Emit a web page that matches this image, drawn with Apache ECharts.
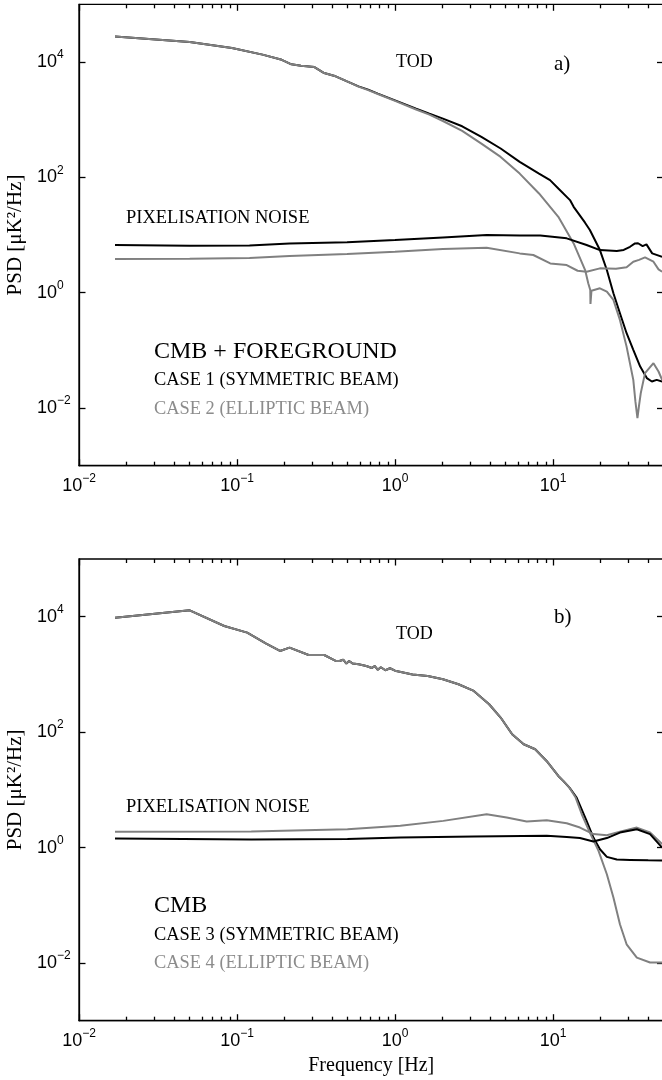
<!DOCTYPE html>
<html>
<head>
<meta charset="utf-8">
<script src="https://cdn.jsdelivr.net/npm/echarts@6/dist/echarts.min.js"></script>
<style>
  html, body { margin: 0; padding: 0; background: #fff; }
  #chart { width: 662px; height: 1080px; }
</style>
</head>
<body>
<div id="chart"></div>
<script>
// Axis ranges shared by both panels
const F_MIN = 0.01, F_MAX = 50;
const P_MIN = 1e-3, P_MAX = 1e5;

// Tick positions
const xMajorTicks = [0.01, 0.1, 1, 10];
const xMinorTicks = [0.02, 0.03, 0.04, 0.05, 0.06, 0.07, 0.08, 0.09,
                     0.2, 0.3, 0.4, 0.5, 0.6, 0.7, 0.8, 0.9,
                     2, 3, 4, 5, 6, 7, 8, 9, 20, 30, 40];
const yMajorTicks = [0.01, 1, 100, 10000];

// Panel a) CMB + foreground: [frequency Hz, PSD uK^2/Hz]
const todCase1 = [
  [0.0169, 27700], [0.0502, 22100], [0.0929, 17400], [0.145, 13400], [0.192, 10900],
  [0.221, 9090], [0.254, 8610], [0.309, 8170], [0.356, 6430], [0.421, 5640],
  [0.497, 4600], [0.587, 3780], [0.676, 3310], [0.778, 2820], [1.0, 2160],
  [1.36, 1550], [1.65, 1270], [2.01, 1040], [2.66, 767], [3.52, 501],
  [4.66, 316], [6.15, 185], [8.15, 116], [9.57, 89.3], [10.8, 64.0],
  [12.8, 40.3], [13.5, 30.8], [15.9, 16.5], [17.1, 12.2], [19.8, 5.48],
  [21.9, 2.47], [24.1, 0.975], [26.5, 0.440], [29.2, 0.198], [32.2, 0.102],
  [35.6, 0.0524], [39.2, 0.0330], [42.2, 0.0288], [45.3, 0.0308], [49.0, 0.0288]
];
const todCase2 = [
  [0.0169, 27700], [0.0502, 22100], [0.0929, 17400], [0.145, 13400], [0.192, 10900],
  [0.221, 9090], [0.254, 8610], [0.309, 8170], [0.356, 6430], [0.421, 5640],
  [0.497, 4600], [0.587, 3740], [0.676, 3250], [0.778, 2780], [1.0, 2120],
  [1.36, 1500], [1.65, 1220], [2.01, 948], [2.66, 637], [3.52, 385],
  [4.66, 226], [6.15, 116], [8.15, 52.5], [10.8, 20.7], [13.5, 7.14],
  [15.96, 2.47], [16.7, 1.46], [17.2, 1.11], [17.25, 0.637], [17.5, 1.08],
  [17.8, 1.11], [19.8, 1.19], [21.9, 1.04], [24.1, 0.748], [26.5, 0.337],
  [29.2, 0.116], [32.2, 0.0308], [33.2, 0.0130], [34.2, 0.00668], [35.0, 0.0110],
  [35.9, 0.0181], [38.2, 0.0403], [43.2, 0.0600], [46.5, 0.0430], [49.0, 0.0308]
];
const pixCase1 = [
  [0.0169, 6.68], [0.0502, 6.52], [0.12, 6.60], [0.215, 7.14], [0.497, 7.50],
  [1.0, 8.17], [2.01, 9.08], [3.80, 9.98], [6.17, 9.84], [8.3, 9.77],
  [12.2, 8.75], [16.3, 6.70], [19.8, 5.48], [25.3, 5.27], [28.0, 5.50],
  [30.7, 6.25], [33.0, 7.14], [34.5, 7.20], [36.9, 6.43], [39.0, 6.87],
  [42.4, 4.80], [49.0, 4.20]
];
const pixCase2 = [
  [0.0169, 3.83], [0.0502, 3.88], [0.12, 4.00], [0.215, 4.32], [0.497, 4.70],
  [1.0, 5.13], [2.01, 5.70], [3.80, 6.01], [6.15, 4.80], [7.50, 4.50],
  [9.6, 3.22], [12.2, 3.01], [14.3, 2.40], [16.3, 2.31], [19.8, 2.64],
  [25.0, 2.60], [29.2, 2.75], [32.2, 3.44], [35.0, 3.70], [38.2, 4.09],
  [43.2, 3.44], [46.5, 2.54], [49.0, 2.31]
];

// Panel b) CMB only
const todCase3 = [
  [0.0169, 9640], [0.0502, 12900], [0.083, 6900], [0.116, 5300], [0.153, 3410],
  [0.187, 2550], [0.215, 2910], [0.284, 2170], [0.356, 2170], [0.421, 1710],
  [0.445, 1710], [0.470, 1800], [0.492, 1540], [0.512, 1710], [0.541, 1540],
  [0.588, 1500], [0.658, 1400], [0.714, 1290], [0.743, 1400], [0.778, 1200],
  [0.813, 1330], [0.869, 1180], [0.929, 1280], [1.0, 1160],
  [1.29, 1000], [1.61, 940], [2.01, 824], [2.52, 675],
  [3.15, 518], [3.94, 304], [4.66, 179], [5.51, 91.8], [6.52, 61.7],
  [7.71, 50.5], [9.10, 31.7], [10.8, 17.4], [11.6, 14.3], [12.7, 10.9],
  [14.1, 7.36], [16.3, 2.90], [18.0, 1.49], [19.8, 0.935], [21.9, 0.690],
  [25.3, 0.619], [30.7, 0.611], [40.0, 0.600], [49.0, 0.596]
];
const todCase4 = [
  [0.0169, 9640], [0.0502, 12900], [0.083, 6900], [0.116, 5300], [0.153, 3410],
  [0.187, 2550], [0.215, 2910], [0.284, 2170], [0.356, 2170], [0.421, 1710],
  [0.445, 1710], [0.470, 1800], [0.492, 1540], [0.512, 1710], [0.541, 1540],
  [0.588, 1500], [0.658, 1400], [0.714, 1290], [0.743, 1400], [0.778, 1200],
  [0.813, 1330], [0.869, 1180], [0.929, 1280], [1.0, 1160],
  [1.29, 1000], [1.61, 940], [2.01, 824], [2.52, 675],
  [3.15, 518], [3.94, 304], [4.66, 179], [5.51, 91.8], [6.52, 61.7],
  [7.71, 50.5], [9.10, 31.7], [10.8, 17.4], [11.6, 14.3], [12.7, 10.9],
  [13.9, 7.35], [15.2, 3.78], [17.1, 1.82], [19.4, 0.875], [21.9, 0.345],
  [24.1, 0.136], [26.5, 0.0469], [29.2, 0.0211], [33.9, 0.0124], [41.1, 0.0102],
  [49.0, 0.0102]
];
const pixCase3 = [
  [0.0169, 1.43], [0.123, 1.38], [0.5, 1.41], [1.08, 1.49], [3.16, 1.55],
  [9.12, 1.60], [12.2, 1.53], [14.8, 1.46], [18.0, 1.27], [21.9, 1.46],
  [26.5, 1.82], [33.9, 2.08], [41.1, 1.71], [49.0, 1.0]
];
const pixCase4 = [
  [0.0169, 1.87], [0.123, 1.89], [0.5, 2.08], [1.08, 2.38], [2.02, 2.90],
  [3.80, 3.78], [5.09, 3.31], [6.81, 2.82], [9.12, 2.98], [12.2, 2.64],
  [14.8, 2.22], [18.0, 1.71], [21.9, 1.64], [26.5, 1.89], [33.9, 2.22],
  [41.1, 1.82], [49.0, 1.15]
];

const BLACK = '#000000';
const GREY = '#808080';
const GREY_TEXT = '#8c8c8c';
const SANS = '"Liberation Sans", Arial, sans-serif';
const SERIF = '"Liberation Serif", "Times New Roman", serif';

// "10^n" labels
function powerLabel(v) {
  const e = Math.round(Math.log10(v));
  return '{b|10}{e|' + (e < 0 ? '\u2212' + (-e) : e) + '}';
}
const richPow = {
  b: { fontFamily: SANS, fontSize: 18, lineHeight: 26, color: '#000' },
  e: { fontFamily: SANS, fontSize: 12, lineHeight: 12, verticalAlign: 'top', color: '#000' }
};

const hidden = { show: false };
const tickStyle = { color: '#000', width: 1.3 };
const MAJOR_LEN = 6.5, MINOR_LEN = 4;

// Four x axes per panel: labelled bottom axis, bottom minor ticks, top major ticks, top minor ticks
function xAxesFor(grid, withName) {
  const base = { type: 'log', logBase: 10, gridIndex: grid, min: F_MIN, max: F_MAX,
                 splitLine: hidden, minorTick: hidden, splitArea: hidden };
  return [
    Object.assign({}, base, {
      position: 'bottom',
      axisLine: { show: true, lineStyle: { color: '#000', width: 1.3 } },
      axisTick: { show: true, inside: true, length: MAJOR_LEN, customValues: xMajorTicks, lineStyle: tickStyle },
      axisLabel: { show: true, customValues: xMajorTicks, formatter: powerLabel, rich: richPow, margin: 7 },
      name: withName ? 'Frequency [Hz]' : '',
      nameLocation: 'middle', nameGap: 35,
      nameTextStyle: { fontFamily: SERIF, fontSize: 20, color: '#000' }
    }),
    Object.assign({}, base, {
      position: 'bottom', offset: 0, axisLine: hidden, axisLabel: hidden,
      axisTick: { show: true, inside: true, length: MINOR_LEN, customValues: xMinorTicks, lineStyle: tickStyle }
    }),
    Object.assign({}, base, {
      position: 'top', offset: 0, axisLine: hidden, axisLabel: hidden,
      axisTick: { show: true, inside: true, length: MAJOR_LEN, customValues: xMajorTicks, lineStyle: tickStyle }
    }),
    Object.assign({}, base, {
      position: 'top', offset: 0, axisLine: hidden, axisLabel: hidden,
      axisTick: { show: true, inside: true, length: MINOR_LEN, customValues: xMinorTicks, lineStyle: tickStyle }
    })
  ];
}
// Two y axes per panel: labelled left axis and right-hand ticks
function yAxesFor(grid) {
  const base = { type: 'log', logBase: 10, gridIndex: grid, min: P_MIN, max: P_MAX,
                 splitLine: hidden, minorTick: hidden, splitArea: hidden };
  return [
    Object.assign({}, base, {
      position: 'left',
      axisLine: { show: true, lineStyle: { color: '#000', width: 1.3 } },
      axisTick: { show: true, inside: true, length: MAJOR_LEN, customValues: yMajorTicks, lineStyle: tickStyle },
      axisLabel: { show: true, customValues: yMajorTicks, formatter: powerLabel, rich: richPow,
                   margin: 42, align: 'left' },
      name: 'PSD [\u03BCK\u00B2/Hz]', nameLocation: 'middle', nameGap: 47, nameRotate: 90,
      nameTextStyle: { fontFamily: SERIF, fontSize: 21, color: '#000' }
    }),
    Object.assign({}, base, {
      position: 'right', offset: 0, axisLine: hidden, axisLabel: hidden,
      axisTick: { show: true, inside: true, length: MAJOR_LEN, customValues: yMajorTicks, lineStyle: tickStyle }
    })
  ];
}

function lineSeries(g, data, color) {
  return {
    type: 'line', xAxisIndex: g * 4, yAxisIndex: g * 2, data: data,
    showSymbol: false, symbol: 'none', smooth: false, silent: true,
    lineStyle: { color: color, width: 2 }, z: 3
  };
}

function label(x, y, text, size, color) {
  return {
    type: 'text', x: x, y: y, silent: true, z: 20,
    style: {
      text: text, fill: color, align: 'left', verticalAlign: 'middle',
      fontFamily: SERIF, fontSize: size
    }
  };
}

const chart = echarts.init(document.getElementById('chart'), null, { renderer: 'canvas' });
chart.setOption({
  animation: false,
  backgroundColor: '#ffffff',
  grid: [
    { left: 79, right: -1.5, top: 4.3, height: 461.4, outerBoundsMode: 'none', containLabel: false,
      show: true, borderColor: '#000', borderWidth: 1.3, backgroundColor: 'transparent' },
    { left: 79, right: -1.5, top: 559, height: 461.7, outerBoundsMode: 'none', containLabel: false,
      show: true, borderColor: '#000', borderWidth: 1.3, backgroundColor: 'transparent' }
  ],
  xAxis: xAxesFor(0, false).concat(xAxesFor(1, true)),
  yAxis: yAxesFor(0).concat(yAxesFor(1)),
  series: [
    lineSeries(0, todCase1, BLACK),
    lineSeries(0, todCase2, GREY),
    lineSeries(0, pixCase2, GREY),
    lineSeries(0, pixCase1, BLACK),
    lineSeries(1, todCase3, BLACK),
    lineSeries(1, todCase4, GREY),
    lineSeries(1, pixCase4, GREY),
    lineSeries(1, pixCase3, BLACK)
  ],
  graphic: [
    label(396, 62.5, 'TOD', 18, BLACK),
    label(554, 64, 'a)', 21, BLACK),
    label(126, 218.4, 'PIXELISATION NOISE', 18.5, BLACK),
    label(154, 351.5, 'CMB + FOREGROUND', 24, BLACK),
    label(154, 380.5, 'CASE 1 (SYMMETRIC BEAM)', 18.4, BLACK),
    label(154, 409, 'CASE 2 (ELLIPTIC BEAM)', 18.4, GREY_TEXT),
    label(396, 634, 'TOD', 18, BLACK),
    label(554, 617, 'b)', 21, BLACK),
    label(126, 806.7, 'PIXELISATION NOISE', 18.5, BLACK),
    label(154, 905.5, 'CMB', 24, BLACK),
    label(154, 935, 'CASE 3 (SYMMETRIC BEAM)', 18.4, BLACK),
    label(154, 963.5, 'CASE 4 (ELLIPTIC BEAM)', 18.4, GREY_TEXT)
  ]
});
</script>
</body>
</html>
